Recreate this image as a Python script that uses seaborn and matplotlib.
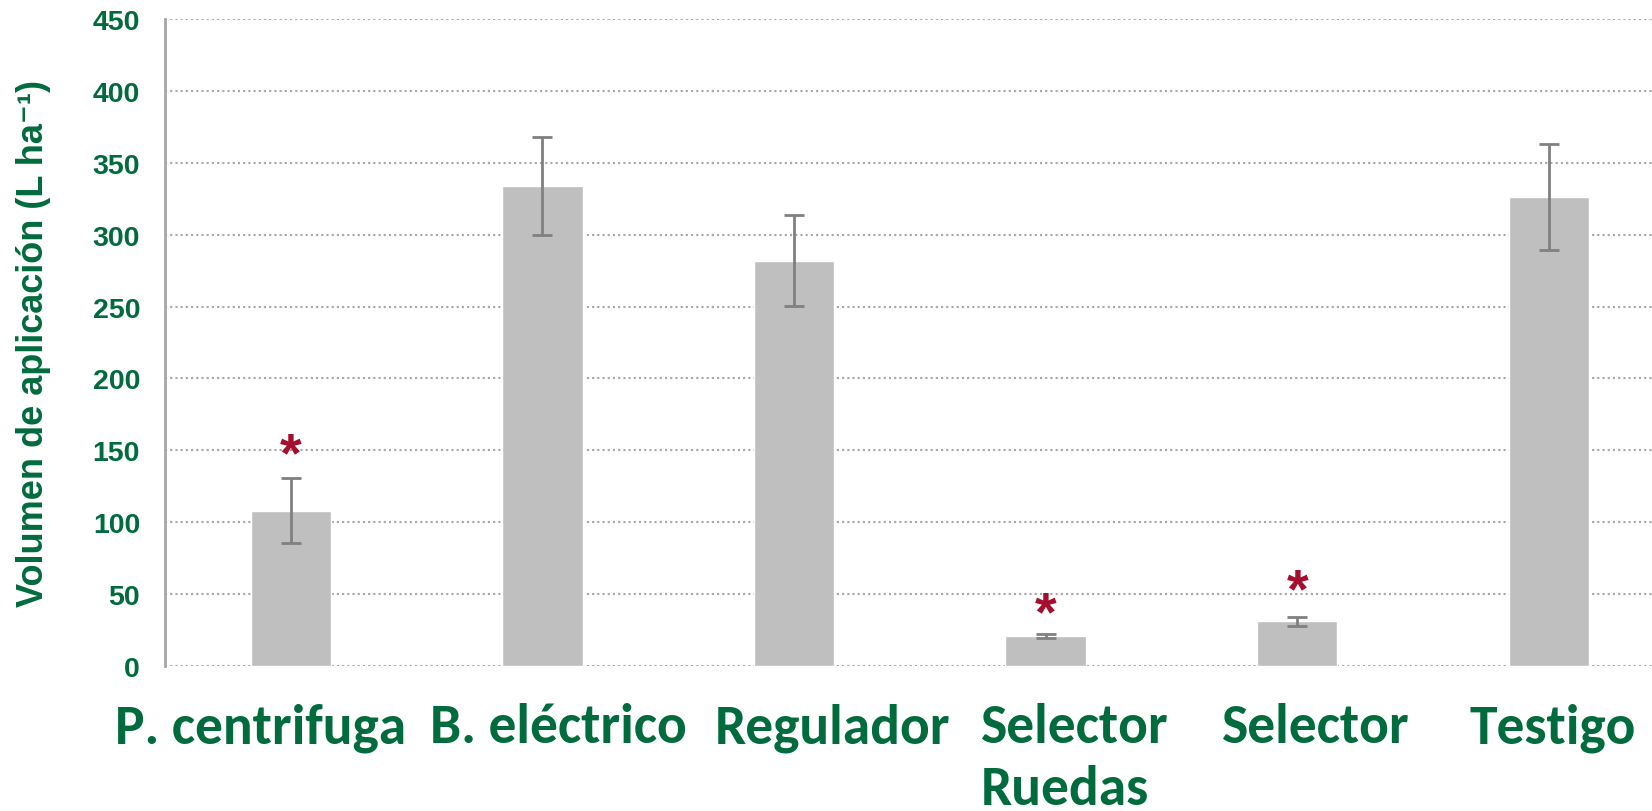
import matplotlib
matplotlib.use("Agg")
import matplotlib.pyplot as plt
import matplotlib.transforms as mtransforms
import seaborn as sns
import pandas as pd

categories = ["P. centrifuga", "B. eléctrico", "Regulador", "Selector\nRuedas", "Selector", "Testigo"]
volumes = [108, 334, 282, 21, 31, 326]
errors = [22.5, 34, 31.5, 1.5, 3, 37]
asterisk_y = [146, None, None, 35.5, 51, None]
yticks = [0, 50, 100, 150, 200, 250, 300, 350, 400, 450]

# horizontal nudges of the category labels (pixels), as placed in the original
label_dx = [-30, 16, 38, 29, 19, 4]

GREEN = "#006B3C"
RED = "#A50F2D"

sns.set_theme(style="white")
plt.rcParams['font.family'] = ['Liberation Sans', 'DejaVu Sans']

df = pd.DataFrame({"cat": categories, "vol": volumes})

fig = plt.figure(figsize=(16.52, 8.12), dpi=100)
ax = fig.add_axes([0.0999, 0.1786, 0.9001, 0.7968])

sns.barplot(data=df, x="cat", y="vol", color="#BFBFBF", width=0.32, ax=ax,
            saturation=1, errorbar=None, zorder=2)
ax.errorbar(range(len(categories)), volumes, yerr=errors, fmt="none",
            ecolor="#808080", elinewidth=2, capsize=7, capthick=2, zorder=3)

for i, y in enumerate(asterisk_y):
    if y is not None:
        ax.text(i, y, "*", color=RED, ha="center", va="center",
                fontsize=40, fontweight="bold", zorder=4)

ax.set_ylim(0, 450)
ax.set_xlim(-0.5, 5.41)
ax.set_yticks(yticks)
ax.set_yticklabels([str(t) for t in yticks], fontsize=20.5, fontweight="bold", color=GREEN)
ax.yaxis.grid(True, linestyle=(0, (1, 1.5)), color="#A6A6A6", linewidth=1.5, zorder=0)
ax.set_axisbelow(True)
ax.tick_params(axis="y", length=0, pad=18)
ax.tick_params(axis="x", length=0, pad=26)
ax.set_xticks(range(len(categories)))
ax.set_xticklabels(categories, fontsize=40, fontweight="bold", color=GREEN,
                   family=['Carlito', 'Liberation Sans'], linespacing=1.33, va="top")
for lab, dx in zip(ax.get_xticklabels(), label_dx):
    lab.set_multialignment("left")
    lab.set_transform(lab.get_transform() + mtransforms.Affine2D().translate(dx, 0))
ax.set_xlabel("")
ax.set_ylabel("Volumen de aplicación (L ha\u207b\u00b9)", fontsize=26,
              fontweight="bold", color=GREEN, labelpad=30,
              family=['Liberation Sans', 'DejaVu Sans'])

for s in ["top", "right", "bottom"]:
    ax.spines[s].set_visible(False)
ax.spines["left"].set_color("#A6A6A6")
ax.spines["left"].set_linewidth(2)

fig.savefig("out.png", dpi=100)
